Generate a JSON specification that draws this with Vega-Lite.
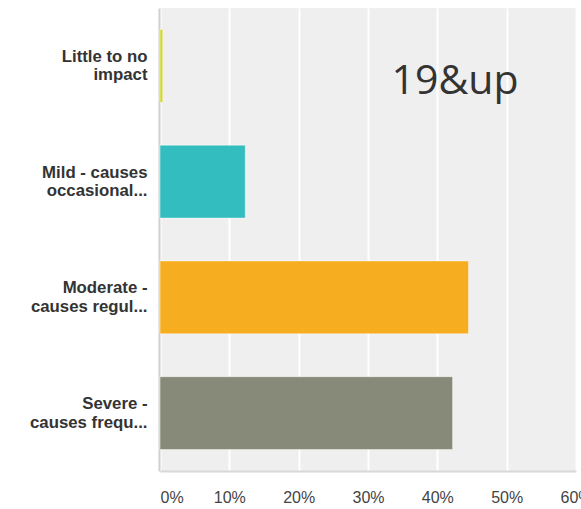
{
  "$schema": "https://vega.github.io/schema/vega-lite/v6.json",
  "width": 416,
  "height": 463,
  "autosize": {"type": "none"},
  "padding": {"left": 160, "top": 8, "right": 5, "bottom": 38},
  "background": "white",
  "config": {"view": {"fill": "#efefef", "stroke": null}},
  "layer": [
    {
      "data": {
        "values": [
          {"response": "Little to no\nimpact", "pct": 0.004},
          {"response": "Mild - causes\noccasional...", "pct": 0.123},
          {"response": "Moderate -\ncauses regul...", "pct": 0.445},
          {"response": "Severe -\ncauses frequ...", "pct": 0.422}
        ]
      },
      "mark": {"type": "bar", "stroke": "white", "strokeOpacity": 0.45, "strokeWidth": 1},
      "encoding": {
        "y": {
          "field": "response",
          "type": "nominal",
          "sort": null,
          "scale": {
            "domain": ["Little to no\nimpact", "Mild - causes\noccasional...", "Moderate -\ncauses regul...", "Severe -\ncauses frequ..."],
            "paddingInner": 0.37,
            "paddingOuter": 0.185
          },
          "axis": {
            "title": null,
            "ticks": false,
            "domainColor": "#d0d0d0",
            "domainWidth": 2,
            "offset": 1,
            "labelFont": "Liberation Sans",
            "labelFontWeight": "bold",
            "labelFontSize": 16.8,
            "labelColor": "#333333",
            "labelPadding": 12,
            "labelLineHeight": 18.5,
            "labelOffset": -9,
            "labelLimit": 200,
            "labelExpr": "split(datum.label, '\\n')"
          }
        },
        "x": {
          "field": "pct",
          "type": "quantitative",
          "scale": {"domain": [0, 0.6], "nice": false},
          "axis": {
            "title": null,
            "ticks": false,
            "format": ".0%",
            "values": [0, 0.1, 0.2, 0.3, 0.4, 0.5, 0.6],
            "grid": true,
            "gridColor": "#ffffff",
            "gridWidth": 2,
            "domainColor": "#d8d8d8",
            "domainWidth": 2,
            "labelFont": "Liberation Sans",
            "labelFontSize": 16,
            "labelColor": "#444444",
            "labelPadding": 18,
            "labelFlush": false,
            "labelBound": false,
            "labelOverlap": false,
            "labelAlign": {"expr": "datum.value == 0 ? 'left' : 'center'"}
          }
        },
        "color": {
          "field": "response",
          "type": "nominal",
          "sort": null,
          "scale": {
            "domain": ["Little to no\nimpact", "Mild - causes\noccasional...", "Moderate -\ncauses regul...", "Severe -\ncauses frequ..."],
            "range": ["#d2d82a", "#34bdbe", "#f6ae20", "#888a79"]
          },
          "legend": null
        }
      }
    },
    {
      "data": {"values": [{"label": "19&up", "pct": 0.334, "response": "Little to no\nimpact"}]},
      "mark": {"type": "text", "align": "left", "baseline": "alphabetic", "dy": 28, "font": "Open Sans", "fontSize": 41, "color": "#333333"},
      "encoding": {
        "x": {"field": "pct", "type": "quantitative"},
        "y": {"field": "response", "type": "nominal", "sort": null},
        "text": {"field": "label"}
      }
    }
  ]
}
